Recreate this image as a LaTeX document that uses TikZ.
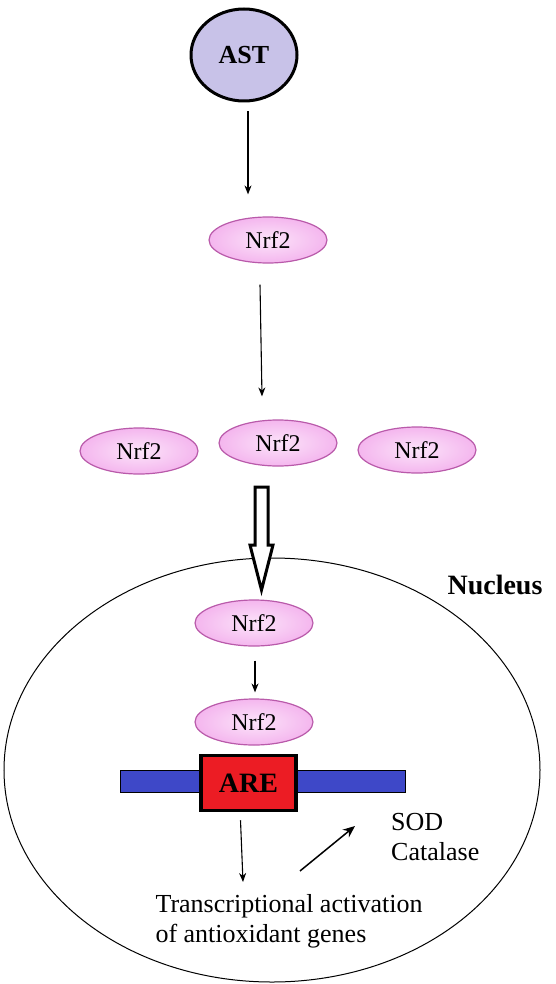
\documentclass[tikz,border=0pt]{standalone}
\usepackage{fontspec}
\setmainfont{Liberation Serif}
\usetikzlibrary{arrows.meta,shapes.geometric}
\definecolor{astfill}{RGB}{200,194,232}
\definecolor{nrffill}{RGB}{244,182,238}
\definecolor{nrflight}{RGB}{252,228,250}
\definecolor{nrfedge}{RGB}{185,90,170}
\definecolor{dnablue}{RGB}{62,72,200}
\definecolor{arered}{RGB}{236,28,36}

\begin{document}
\begin{tikzpicture}[x=1pt,y=-1pt,>={Stealth[length=9pt,width=7pt]},
    nrf/.style={ellipse,draw=nrfedge,line width=1.2pt,inner color=nrflight,outer color=nrffill,
      minimum width=118pt,minimum height=46pt,inner sep=0pt,
      font=\fontsize{24}{28}\selectfont},
    txt/.style={align=left,inner sep=0pt,font=\fontsize{26}{30}\selectfont},
    link/.style={->,line width=1.1pt}]
    \newcommand{\nrfNode}[2]{
        \node[nrf] (#1) at (#2) {Nrf2};
    }
\useasboundingbox (0,0) rectangle (556,984);
% nucleus
\draw[line width=1pt] (272,770) ellipse (268 and 212);
\node[font=\fontsize{28}{32}\selectfont\bfseries] (nucleus) at (495,585) {Nucleus};
% cytoplasm
\node[ellipse,draw,line width=3pt,fill=astfill,minimum width=106pt,minimum height=92pt,
  font=\fontsize{26}{30}\selectfont\bfseries] (ast) at (244,55) {AST};
\nrfNode{nrfA}{268,240}
\nrfNode{nrfL}{139,451}
\nrfNode{nrfB}{278,443}
\nrfNode{nrfR}{417,450}
\draw[link] ([shift={(4,9)}]ast.south) -- ([shift={(-20,-22)}]nrfA.north);
\draw[link] ([shift={(-8,21)}]nrfA.south) -- ([shift={(-16,-23)}]nrfB.north);
% translocation
\draw[line width=3pt,fill=white] (255,487) -- (268,487) -- (268,545) -- (273,545)
  -- (261.5,590) -- (250,545) -- (255,545) -- cycle;
% inside the nucleus
\nrfNode{nrfC}{254,623}
\nrfNode{nrfD}{254,722}
\draw[link] ([shift={(1,14)}]nrfC.south) -- ([shift={(1,-6)}]nrfD.north);
\fill[dnablue,draw=black] (120,770) rectangle (405,792);
\node[draw,line width=3.5pt,fill=arered,minimum width=95pt,minimum height=55pt,
  inner sep=0pt,font=\fontsize{28}{32}\selectfont\bfseries] (are) at (248.5,783) {ARE};
\node[txt] (genes) at (289,921) {Transcriptional activation\\of antioxidant genes};
\node[txt,anchor=west] (sod) at (391,837) {SOD\\Catalase};
\draw[link] ([shift={(-8,8)}]are.south) -- ([shift={(-46,-12)}]genes.north);
\draw[link,line width=1.5pt,>={Stealth[length=12pt,width=10pt]}] ([shift={(11,-23)}]genes.north) -- ([shift={(-36,-11)}]sod.west);
\end{tikzpicture}
\end{document}
